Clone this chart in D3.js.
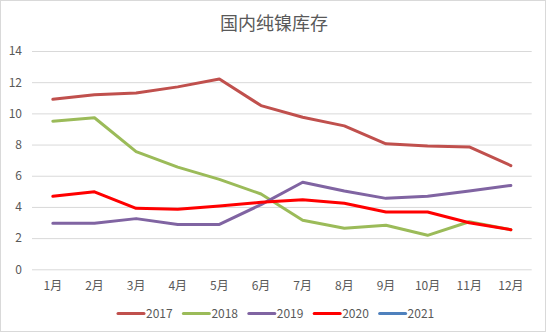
<!DOCTYPE html>
<html><head><meta charset="utf-8">
<script src="https://cdn.jsdelivr.net/npm/d3@7"></script>
<style>html,body{margin:0;padding:0;background:#fff;}svg{display:block;}</style>
</head><body>
<script>
const title = "国内纯镍库存";
const months = ["1月","2月","3月","4月","5月","6月","7月","8月","9月","10月","11月","12月"];
const yTicks = [0,2,4,6,8,10,12,14];
const seriesNames = ["2017","2018","2019","2020","2021"];
const seriesColors = ["#C0504D","#9BBB59","#8064A2","#FF0000","#4F81BD"];
const v2017 = [10.9,11.2,11.3,11.7,12.2,10.5,9.75,9.2,8.05,7.9,7.85,6.65];
const v2018 = [9.5,9.72,7.55,6.55,5.77,4.83,3.14,2.63,2.82,2.18,3.05,2.54];
const v2019 = [2.95,2.95,3.25,2.88,2.88,4.15,5.58,5.02,4.55,4.68,5.02,5.38];
const v2020 = [4.68,4.97,3.91,3.85,4.06,4.3,4.46,4.23,3.67,3.67,2.99,2.54];
const v2021 = [];
const seriesValues = [v2017,v2018,v2019,v2020,v2021];

const W=546,H=332;
const font = "'Noto Sans CJK SC','Microsoft YaHei',sans-serif";
const svg = d3.select("body").append("svg").attr("width",W).attr("height",H);
svg.append("rect").attr("x",0.5).attr("y",0.5).attr("width",W-1).attr("height",H-1)
  .attr("fill","#fff").attr("stroke","#D9D9D9");

const x0 = 32, x1 = 531.7;
const x = d3.scaleBand().domain(months).range([x0,x1]);
const y = d3.scaleLinear().domain([0,14]).range([269.3,51]);

svg.append("text").attr("x",274).attr("y",30).attr("text-anchor","middle")
  .attr("font-family",font).attr("font-size",18).attr("fill","#595959").text(title);

const yAxis = svg.append("g").attr("transform",`translate(${x0},0)`)
  .call(d3.axisLeft(y).tickValues(yTicks).tickSize(-(x1-x0)).tickFormat(d3.format("d")));
yAxis.select(".domain").remove();
yAxis.selectAll(".tick line").attr("stroke","#D9D9D9");
yAxis.selectAll(".tick text").attr("x",-10).attr("fill","#595959")
  .attr("font-family",font).attr("font-size",12);

const xAxis = svg.append("g").attr("transform","translate(0,269.3)")
  .call(d3.axisBottom(x).tickSize(0));
xAxis.select(".domain").remove();
xAxis.selectAll(".tick text").attr("dy",0).attr("y",21).attr("fill","#595959")
  .attr("font-family",font).attr("font-size",12);

const line = d3.line().x((d,i)=>x(months[i])+x.bandwidth()/2).y(d=>y(d));
seriesValues.forEach((vals,k)=>{
  if(!vals.length) return;
  svg.append("path").datum(vals).attr("d",line).attr("fill","none")
    .attr("stroke",seriesColors[k]).attr("stroke-width",3)
    .attr("stroke-linejoin","round").attr("stroke-linecap","round");
});

const lg = svg.append("g");
seriesNames.forEach((n,k)=>{
  const lx = 118 + k*65.4;
  lg.append("line").attr("x1",lx).attr("x2",lx+26).attr("y1",313.5).attr("y2",313.5)
    .attr("stroke",seriesColors[k]).attr("stroke-width",3).attr("stroke-linecap","round");
  lg.append("text").attr("x",lx+28).attr("y",317.5).attr("font-family",font)
    .attr("font-size",12).attr("fill","#595959").text(n);
});
</script>
</body></html>
